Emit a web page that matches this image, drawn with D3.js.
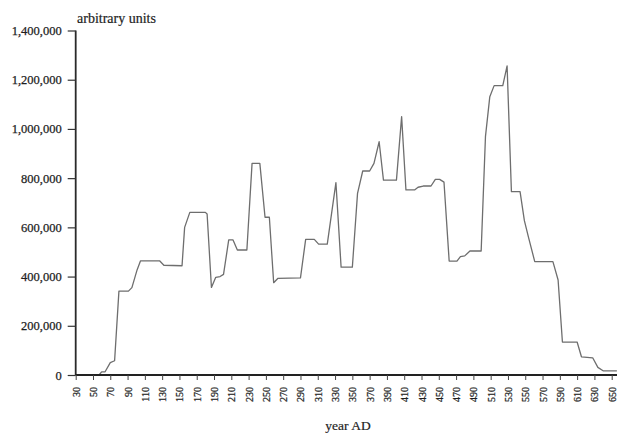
<!DOCTYPE html>
<html>
<head>
<meta charset="utf-8">
<script src="https://cdn.jsdelivr.net/npm/d3@7"></script>
<style>
  html, body { margin: 0; padding: 0; background: #fff; }
  svg { display: block; }
  text { font-family: "Liberation Serif", "DejaVu Serif", serif; fill: #1e1e1e; }
</style>
</head>
<body>
<svg id="chart" width="617" height="433"></svg>
<script>
// ---- data ----
const years = [30, 57, 60, 64, 70, 75, 80, 91, 95, 101, 105, 127, 132, 153, 156, 162, 180, 182, 187, 192,
  197, 201, 207, 212, 217, 228, 234, 243, 249, 254, 259, 264, 290, 296, 306, 311, 321, 331, 337, 350,
  356, 362, 370, 375, 381, 386, 401, 407, 412, 422, 426, 432, 441, 446, 451, 456, 462, 471, 475, 480,
  486, 499, 504, 509, 514, 524, 529, 534, 544, 549, 554, 561, 582, 588, 593, 610, 615, 628, 634, 640, 656];
const values = [0, 0, 13000, 13000, 50000, 58000, 341000, 341000, 355000, 427000, 464000, 464000, 446000, 444000, 600000, 661000, 661000, 654000, 356000, 397000,
  400000, 409000, 549000, 549000, 508000, 508000, 860000, 860000, 641000, 641000, 375000, 393000, 395000, 551000, 551000, 532000, 532000, 782000, 438000, 438000,
  738000, 829000, 829000, 860000, 948000, 792000, 792000, 1050000, 752000, 752000, 763000, 768000, 768000, 795000, 795000, 784000, 463000, 463000, 481000, 484000,
  504000, 504000, 970000, 1131000, 1176000, 1176000, 1256000, 745000, 745000, 627000, 556000, 461000, 461000, 386000, 134000, 134000, 74000, 70000, 31000, 17000, 17000];
const xTicks = d3.range(30, 651, 20);
const yTicks = [0, 200000, 400000, 600000, 800000, 1000000, 1200000, 1400000];
const yTitle = "arbitrary units";
const xTitle = "year AD";

// ---- chart ----
const svg = d3.select("#chart");
const x = d3.scaleLinear().domain([30, 650]).range([75.7, 611.7]);
const y = d3.scaleLinear().domain([0, 1400000]).range([375, 30.5]);

const data = years.map((yr, i) => ({ yr, v: values[i] }));

// line
svg.append("path")
  .datum(data)
  .attr("fill", "none")
  .attr("stroke", "#6e6e6e")
  .attr("stroke-width", 1.3)
  .attr("stroke-linejoin", "round")
  .attr("d", d3.line().x(d => x(d.yr)).y(d => y(d.v)));

// y axis
const yAxis = svg.append("g")
  .attr("transform", `translate(${x(30)},0)`)
  .call(d3.axisLeft(y).tickValues(yTicks).tickFormat(d3.format(",")).tickSize(8).tickPadding(6));
yAxis.select(".domain").attr("stroke", "#2a2a2a").attr("stroke-width", 1.8).attr("d", `M0,${y(1400000)}V${y(0)}`);
yAxis.selectAll(".tick line").attr("stroke", "#333").attr("stroke-width", 1.2);
yAxis.selectAll(".tick text").style("font-size", "12.5px").style("font-family", "Liberation Serif, serif")
  .attr("fill", "#1e1e1e").attr("stroke", "#1e1e1e").attr("stroke-width", 0.25);

// x axis
const xAxis = svg.append("g")
  .attr("transform", `translate(0,${y(0)})`)
  .call(d3.axisBottom(x).tickValues(xTicks).tickFormat(d3.format("d")).tickSize(5));
xAxis.select(".domain").attr("stroke", "#222").attr("stroke-width", 2).attr("d", `M${x(30)},0H617`);
xAxis.selectAll(".tick line").attr("stroke", "#444").attr("stroke-width", 1);
xAxis.selectAll(".tick text")
  .style("font-size", "10px").style("font-family", "Liberation Serif, serif")
  .attr("fill", "#1e1e1e").attr("stroke", "#1e1e1e").attr("stroke-width", 0.25)
  .attr("text-anchor", "end")
  .attr("dy", "0.35em")
  .attr("transform", "translate(0,12) rotate(-90)")
  .attr("x", 0).attr("y", 0);

// titles
svg.append("text")
  .attr("x", 77).attr("y", 23)
  .style("font-size", "14px")
  .attr("stroke", "#1e1e1e").attr("stroke-width", 0.2)
  .text(yTitle);

svg.append("text")
  .attr("x", 348).attr("y", 430)
  .attr("text-anchor", "middle")
  .style("font-size", "13.5px")
  .attr("stroke", "#1e1e1e").attr("stroke-width", 0.2)
  .text(xTitle);
</script>
</body>
</html>
